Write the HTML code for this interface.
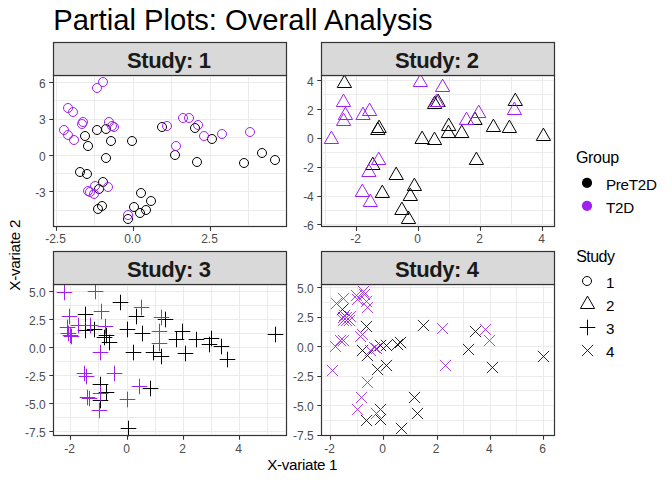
<!DOCTYPE html>
<html lang="en"><head><meta charset="utf-8"><title>Partial Plots: Overall Analysis</title>
<style>
html,body{margin:0;padding:0;background:#fff;}
body{width:672px;height:480px;overflow:hidden;}
svg{display:block;}
text{font-family:"Liberation Sans",Arial,sans-serif;}
.ax{font-size:12px;fill:#4d4d4d;}
.lab{font-size:15.2px;fill:#000;letter-spacing:-0.24px;}
.strip{font-size:22px;font-weight:bold;fill:#1a1a1a;letter-spacing:-0.42px;}
.lt{font-size:16px;fill:#000;}
.sym{fill:none;stroke-width:1.0;stroke-linecap:butt;stroke-linejoin:miter;}
</style></head><body>
<svg width="672" height="480" viewBox="0 0 672 480">
<rect width="672" height="480" fill="#ffffff"/>
<text x="53.2" y="30" style="font-size:29.18px;fill:#000">Partial Plots: Overall Analysis</text>

<g id="panel1">
<rect x="53.5" y="75.5" width="233.0" height="151.0" fill="#fff"/>
<path d="M55.0 100.5H285.0M55.0 137.5H285.0M55.0 173.5H285.0M55.0 210.5H285.0M94.5 77.0V225.0M171.5 77.0V225.0M248.5 77.0V225.0" stroke="#ebebeb" stroke-width="1" fill="none"/>
<path d="M55.0 82.5H285.0M55.0 119.5H285.0M55.0 155.5H285.0M55.0 191.5H285.0M56.5 77.0V225.0M133.5 77.0V225.0M210.5 77.0V225.0" stroke="#ebebeb" stroke-width="1" fill="none"/>
<g class="sym" stroke="#000000"><circle cx="97.0" cy="130.0" r="4.5"/><circle cx="106.0" cy="129.0" r="4.5"/><circle cx="85.0" cy="136.0" r="4.5"/><circle cx="111.0" cy="141.0" r="4.5"/><circle cx="88.0" cy="146.0" r="4.5"/><circle cx="132.0" cy="141.0" r="4.5"/><circle cx="162.0" cy="127.0" r="4.5"/><circle cx="195.0" cy="128.0" r="4.5"/><circle cx="212.0" cy="139.0" r="4.5"/><circle cx="262.0" cy="153.0" r="4.5"/><circle cx="175.0" cy="155.0" r="4.5"/><circle cx="106.0" cy="158.0" r="4.5"/><circle cx="80.0" cy="172.0" r="4.5"/><circle cx="87.0" cy="174.0" r="4.5"/><circle cx="103.0" cy="182.0" r="4.5"/><circle cx="99.0" cy="189.0" r="4.5"/><circle cx="102.0" cy="206.0" r="4.5"/><circle cx="98.0" cy="209.0" r="4.5"/><circle cx="141.0" cy="193.0" r="4.5"/><circle cx="151.0" cy="201.0" r="4.5"/><circle cx="134.0" cy="207.0" r="4.5"/><circle cx="146.0" cy="210.0" r="4.5"/><circle cx="140.0" cy="213.0" r="4.5"/><circle cx="128.0" cy="219.0" r="4.5"/><circle cx="197.0" cy="162.0" r="4.5"/><circle cx="244.0" cy="163.0" r="4.5"/><circle cx="275.0" cy="160.0" r="4.5"/></g>
<g class="sym" stroke="#a020f0"><circle cx="103.0" cy="82.0" r="4.5"/><circle cx="97.0" cy="88.0" r="4.5"/><circle cx="68.0" cy="108.0" r="4.5"/><circle cx="73.0" cy="112.0" r="4.5"/><circle cx="83.0" cy="122.0" r="4.5"/><circle cx="82.0" cy="124.0" r="4.5"/><circle cx="64.0" cy="130.0" r="4.5"/><circle cx="68.0" cy="135.0" r="4.5"/><circle cx="74.0" cy="140.0" r="4.5"/><circle cx="109.0" cy="122.0" r="4.5"/><circle cx="112.0" cy="126.0" r="4.5"/><circle cx="114.0" cy="127.0" r="4.5"/><circle cx="167.0" cy="126.0" r="4.5"/><circle cx="183.0" cy="118.0" r="4.5"/><circle cx="189.0" cy="118.0" r="4.5"/><circle cx="198.0" cy="125.0" r="4.5"/><circle cx="204.0" cy="136.0" r="4.5"/><circle cx="222.0" cy="134.0" r="4.5"/><circle cx="250.0" cy="132.0" r="4.5"/><circle cx="176.0" cy="146.0" r="4.5"/><circle cx="108.0" cy="187.0" r="4.5"/><circle cx="95.0" cy="186.0" r="4.5"/><circle cx="88.0" cy="191.0" r="4.5"/><circle cx="90.0" cy="192.0" r="4.5"/><circle cx="94.0" cy="194.0" r="4.5"/><circle cx="128.0" cy="215.0" r="4.5"/></g>
<rect x="53.5" y="75.5" width="233.0" height="151.0" fill="none" stroke="#333333" stroke-width="1.2"/>
<rect x="53.5" y="42.5" width="233.0" height="33.0" fill="#d9d9d9" stroke="#333333" stroke-width="1.2"/>
<text class="strip" x="127.1" y="68.1">Study: 1</text>
<path d="M49.3 82.5H53.5M49.3 119.5H53.5M49.3 155.5H53.5M49.3 191.5H53.5M56.5 226.5V230.7M133.5 226.5V230.7M210.5 226.5V230.7" stroke="#333333" stroke-width="1.1" fill="none"/>
<text class="ax" x="45.8" y="87.7" text-anchor="end">6</text>
<text class="ax" x="45.8" y="124.2" text-anchor="end">3</text>
<text class="ax" x="45.8" y="160.7" text-anchor="end">0</text>
<text class="ax" x="45.8" y="196.9" text-anchor="end">-3</text>
<text class="ax" x="55.5" y="243.0" text-anchor="middle">-2.5</text>
<text class="ax" x="132.5" y="243.0" text-anchor="middle">0.0</text>
<text class="ax" x="209.5" y="243.0" text-anchor="middle">2.5</text>
</g>
<g id="panel2">
<rect x="321.5" y="75.5" width="233.0" height="151.0" fill="#fff"/>
<path d="M323.0 94.5H553.0M323.0 123.5H553.0M323.0 152.5H553.0M323.0 181.5H553.0M323.0 210.5H553.0M325.5 77.0V225.0M387.5 77.0V225.0M449.5 77.0V225.0M511.5 77.0V225.0" stroke="#ebebeb" stroke-width="1" fill="none"/>
<path d="M323.0 80.5H553.0M323.0 109.5H553.0M323.0 138.5H553.0M323.0 167.5H553.0M323.0 196.5H553.0M323.0 224.5H553.0M356.5 77.0V225.0M418.5 77.0V225.0M480.5 77.0V225.0M542.5 77.0V225.0" stroke="#ebebeb" stroke-width="1" fill="none"/>
<g class="sym" stroke="#000000"><path d="M344.40 75.14L351.54 87.50L337.26 87.50Z"/><path d="M379.10 120.14L386.24 132.50L371.96 132.50Z"/><path d="M377.80 122.14L384.94 134.50L370.66 134.50Z"/><path d="M422.10 131.14L429.24 143.50L414.96 143.50Z"/><path d="M434.50 132.14L441.64 144.50L427.36 144.50Z"/><path d="M438.10 94.14L445.24 106.50L430.96 106.50Z"/><path d="M434.60 96.14L441.74 108.50L427.46 108.50Z"/><path d="M515.30 93.14L522.44 105.50L508.16 105.50Z"/><path d="M475.00 112.14L482.14 124.50L467.86 124.50Z"/><path d="M448.70 118.14L455.84 130.50L441.56 130.50Z"/><path d="M448.40 125.14L455.54 137.50L441.26 137.50Z"/><path d="M461.75 125.14L468.89 137.50L454.61 137.50Z"/><path d="M493.40 119.14L500.54 131.50L486.26 131.50Z"/><path d="M509.40 120.14L516.54 132.50L502.26 132.50Z"/><path d="M543.40 128.14L550.54 140.50L536.26 140.50Z"/><path d="M372.80 157.14L379.94 169.50L365.66 169.50Z"/><path d="M396.20 167.14L403.34 179.50L389.06 179.50Z"/><path d="M414.40 178.14L421.54 190.50L407.26 190.50Z"/><path d="M382.30 185.14L389.44 197.50L375.16 197.50Z"/><path d="M410.30 188.14L417.44 200.50L403.16 200.50Z"/><path d="M401.90 202.14L409.04 214.50L394.76 214.50Z"/><path d="M408.50 211.14L415.64 223.50L401.36 223.50Z"/><path d="M476.40 152.14L483.54 164.50L469.26 164.50Z"/></g>
<g class="sym" stroke="#a020f0"><path d="M420.40 74.14L427.54 86.50L413.26 86.50Z"/><path d="M442.60 79.14L449.74 91.50L435.46 91.50Z"/><path d="M436.60 94.14L443.74 106.50L429.46 106.50Z"/><path d="M343.50 94.14L350.64 106.50L336.36 106.50Z"/><path d="M345.40 107.14L352.54 119.50L338.26 119.50Z"/><path d="M343.60 113.14L350.74 125.50L336.46 125.50Z"/><path d="M363.00 107.14L370.14 119.50L355.86 119.50Z"/><path d="M369.60 103.14L376.74 115.50L362.46 115.50Z"/><path d="M331.40 131.14L338.54 143.50L324.26 143.50Z"/><path d="M478.70 105.14L485.84 117.50L471.56 117.50Z"/><path d="M466.50 112.14L473.64 124.50L459.36 124.50Z"/><path d="M514.40 102.14L521.54 114.50L507.26 114.50Z"/><path d="M378.70 152.14L385.84 164.50L371.56 164.50Z"/><path d="M368.90 164.14L376.04 176.50L361.76 176.50Z"/><path d="M362.30 184.14L369.44 196.50L355.16 196.50Z"/><path d="M370.30 194.14L377.44 206.50L363.16 206.50Z"/></g>
<rect x="321.5" y="75.5" width="233.0" height="151.0" fill="none" stroke="#333333" stroke-width="1.2"/>
<rect x="321.5" y="42.5" width="233.0" height="33.0" fill="#d9d9d9" stroke="#333333" stroke-width="1.2"/>
<text class="strip" x="395.1" y="68.1">Study: 2</text>
<path d="M317.3 80.5H321.5M317.3 109.5H321.5M317.3 138.5H321.5M317.3 167.5H321.5M317.3 196.5H321.5M317.3 224.5H321.5M356.5 226.5V230.7M418.5 226.5V230.7M480.5 226.5V230.7M542.5 226.5V230.7" stroke="#333333" stroke-width="1.1" fill="none"/>
<text class="ax" x="313.8" y="85.6" text-anchor="end">4</text>
<text class="ax" x="313.8" y="114.5" text-anchor="end">2</text>
<text class="ax" x="313.8" y="143.4" text-anchor="end">0</text>
<text class="ax" x="313.8" y="172.3" text-anchor="end">-2</text>
<text class="ax" x="313.8" y="201.3" text-anchor="end">-4</text>
<text class="ax" x="313.8" y="230.1" text-anchor="end">-6</text>
<text class="ax" x="355.5" y="243.0" text-anchor="middle">-2</text>
<text class="ax" x="417.5" y="243.0" text-anchor="middle">0</text>
<text class="ax" x="479.5" y="243.0" text-anchor="middle">2</text>
<text class="ax" x="541.5" y="243.0" text-anchor="middle">4</text>
</g>
<g id="panel3">
<rect x="53.5" y="284.5" width="233.0" height="151.0" fill="#fff"/>
<path d="M55.0 305.5H285.0M55.0 333.5H285.0M55.0 361.5H285.0M55.0 389.5H285.0M55.0 417.5H285.0M98.5 286.0V434.0M155.5 286.0V434.0M211.5 286.0V434.0M267.5 286.0V434.0" stroke="#ebebeb" stroke-width="1" fill="none"/>
<path d="M55.0 291.5H285.0M55.0 319.5H285.0M55.0 347.5H285.0M55.0 375.5H285.0M55.0 403.5H285.0M55.0 431.5H285.0M70.5 286.0V434.0M127.5 286.0V434.0M183.5 286.0V434.0M239.5 286.0V434.0" stroke="#ebebeb" stroke-width="1" fill="none"/>
<g class="sym" stroke="#000000"><path d="M77.70 314.50H93.30M85.50 306.70V322.30"/><path d="M77.70 330.50H93.30M85.50 322.70V338.30"/><path d="M86.70 329.50H102.30M94.50 321.70V337.30"/><path d="M98.70 335.50H114.30M106.50 327.70V343.30"/><path d="M96.70 337.50H112.30M104.50 329.70V345.30"/><path d="M101.70 342.50H117.30M109.50 334.70V350.30"/><path d="M112.70 302.50H128.30M120.50 294.70V310.30"/><path d="M128.70 316.50H144.30M136.50 308.70V324.30"/><path d="M119.70 329.50H135.30M127.50 321.70V337.30"/><path d="M134.70 333.50H150.30M142.50 325.70V341.30"/><path d="M125.70 352.50H141.30M133.50 344.70V360.30"/><path d="M145.70 352.50H161.30M153.50 344.70V360.30"/><path d="M153.70 356.50H169.30M161.50 348.70V364.30"/><path d="M157.70 319.50H173.30M165.50 311.70V327.30"/><path d="M174.70 331.50H190.30M182.50 323.70V339.30"/><path d="M168.70 339.50H184.30M176.50 331.70V347.30"/><path d="M188.70 339.50H204.30M196.50 331.70V347.30"/><path d="M203.70 338.50H219.30M211.50 330.70V346.30"/><path d="M201.70 344.50H217.30M209.50 336.70V352.30"/><path d="M213.70 346.50H229.30M221.50 338.70V354.30"/><path d="M177.70 353.50H193.30M185.50 345.70V361.30"/><path d="M219.70 359.50H235.30M227.50 351.70V367.30"/><path d="M267.70 334.50H283.30M275.50 326.70V342.30"/><path d="M92.70 384.50H108.30M100.50 376.70V392.30"/><path d="M98.70 392.50H114.30M106.50 384.70V400.30"/><path d="M92.70 400.50H108.30M100.50 392.70V408.30"/><path d="M142.70 388.50H158.30M150.50 380.70V396.30"/><path d="M120.70 428.50H136.30M128.50 420.70V436.30"/></g>
<g class="sym" stroke="#a020f0"><path d="M56.70 292.50H72.30M64.50 284.70V300.30"/><path d="M87.70 291.50H103.30M95.50 283.70V299.30"/><path d="M93.70 311.50H109.30M101.50 303.70V319.30"/><path d="M61.70 316.50H77.30M69.50 308.70V324.30"/><path d="M70.70 325.50H86.30M78.50 317.70V333.30"/><path d="M82.70 325.50H98.30M90.50 317.70V333.30"/><path d="M59.70 327.50H75.30M67.50 319.70V335.30"/><path d="M60.70 333.50H76.30M68.50 325.70V341.30"/><path d="M62.70 335.50H78.30M70.50 327.70V343.30"/><path d="M63.70 336.50H79.30M71.50 328.70V344.30"/><path d="M97.70 326.50H113.30M105.50 318.70V334.30"/><path d="M133.70 307.50H149.30M141.50 299.70V315.30"/><path d="M153.70 317.50H169.30M161.50 309.70V325.30"/><path d="M151.70 331.50H167.30M159.50 323.70V339.30"/><path d="M151.70 343.50H167.30M159.50 335.70V351.30"/><path d="M92.70 352.50H108.30M100.50 344.70V360.30"/><path d="M76.70 373.50H92.30M84.50 365.70V381.30"/><path d="M78.70 376.50H94.30M86.50 368.70V384.30"/><path d="M106.70 373.50H122.30M114.50 365.70V381.30"/><path d="M79.70 397.50H95.30M87.50 389.70V405.30"/><path d="M81.70 398.50H97.30M89.50 390.70V406.30"/><path d="M92.70 393.50H108.30M100.50 385.70V401.30"/><path d="M91.70 410.50H107.30M99.50 402.70V418.30"/><path d="M119.70 399.50H135.30M127.50 391.70V407.30"/><path d="M131.70 386.50H147.30M139.50 378.70V394.30"/></g>
<rect x="53.5" y="284.5" width="233.0" height="151.0" fill="none" stroke="#333333" stroke-width="1.2"/>
<rect x="53.5" y="251.5" width="233.0" height="33.0" fill="#d9d9d9" stroke="#333333" stroke-width="1.2"/>
<text class="strip" x="127.1" y="277.1">Study: 3</text>
<path d="M49.3 291.5H53.5M49.3 319.5H53.5M49.3 347.5H53.5M49.3 375.5H53.5M49.3 403.5H53.5M49.3 431.5H53.5M70.5 435.5V439.7M127.5 435.5V439.7M183.5 435.5V439.7M239.5 435.5V439.7" stroke="#333333" stroke-width="1.1" fill="none"/>
<text class="ax" x="45.8" y="296.7" text-anchor="end">5.0</text>
<text class="ax" x="45.8" y="324.7" text-anchor="end">2.5</text>
<text class="ax" x="45.8" y="352.7" text-anchor="end">0.0</text>
<text class="ax" x="45.8" y="380.7" text-anchor="end">-2.5</text>
<text class="ax" x="45.8" y="408.7" text-anchor="end">-5.0</text>
<text class="ax" x="45.8" y="436.7" text-anchor="end">-7.5</text>
<text class="ax" x="69.5" y="452.9" text-anchor="middle">-2</text>
<text class="ax" x="126.5" y="452.9" text-anchor="middle">0</text>
<text class="ax" x="182.5" y="452.9" text-anchor="middle">2</text>
<text class="ax" x="238.5" y="452.9" text-anchor="middle">4</text>
</g>
<g id="panel4">
<rect x="321.5" y="284.5" width="233.0" height="151.0" fill="#fff"/>
<path d="M323.0 302.5H553.0M323.0 331.5H553.0M323.0 361.5H553.0M323.0 390.5H553.0M323.0 420.5H553.0M357.5 286.0V434.0M410.5 286.0V434.0M463.5 286.0V434.0M516.5 286.0V434.0" stroke="#ebebeb" stroke-width="1" fill="none"/>
<path d="M323.0 287.5H553.0M323.0 317.5H553.0M323.0 346.5H553.0M323.0 376.5H553.0M323.0 405.5H553.0M323.0 435.5H553.0M330.5 286.0V434.0M383.5 286.0V434.0M437.5 286.0V434.0M490.5 286.0V434.0M543.5 286.0V434.0" stroke="#ebebeb" stroke-width="1" fill="none"/>
<g class="sym" stroke="#000000"><path stroke-width="0.85" d="M336.90 303.90L348.10 315.10M336.90 315.10L348.10 303.90"/><path stroke-width="0.85" d="M360.90 320.90L372.10 332.10M360.90 332.10L372.10 320.90"/><path stroke-width="0.85" d="M356.90 344.90L368.10 356.10M356.90 356.10L368.10 344.90"/><path stroke-width="0.85" d="M361.90 349.90L373.10 361.10M361.90 361.10L373.10 349.90"/><path stroke-width="0.85" d="M374.90 339.90L386.10 351.10M374.90 351.10L386.10 339.90"/><path stroke-width="0.85" d="M380.90 339.90L392.10 351.10M380.90 351.10L392.10 339.90"/><path stroke-width="0.85" d="M394.90 336.90L406.10 348.10M394.90 348.10L406.10 336.90"/><path stroke-width="0.85" d="M391.90 338.90L403.10 350.10M391.90 350.10L403.10 338.90"/><path stroke-width="0.85" d="M417.90 319.90L429.10 331.10M417.90 331.10L429.10 319.90"/><path stroke-width="0.85" d="M469.90 325.90L481.10 337.10M469.90 337.10L481.10 325.90"/><path stroke-width="0.85" d="M462.90 343.90L474.10 355.10M462.90 355.10L474.10 343.90"/><path stroke-width="0.85" d="M486.90 361.90L498.10 373.10M486.90 373.10L498.10 361.90"/><path stroke-width="0.85" d="M537.90 350.90L549.10 362.10M537.90 362.10L549.10 350.90"/><path stroke-width="0.85" d="M371.90 363.90L383.10 375.10M371.90 375.10L383.10 363.90"/><path stroke-width="0.85" d="M380.90 359.90L392.10 371.10M380.90 371.10L392.10 359.90"/><path stroke-width="0.85" d="M374.90 403.90L386.10 415.10M374.90 415.10L386.10 403.90"/><path stroke-width="0.85" d="M360.90 414.90L372.10 426.10M360.90 426.10L372.10 414.90"/><path stroke-width="0.85" d="M374.90 413.90L386.10 425.10M374.90 425.10L386.10 413.90"/><path stroke-width="0.85" d="M395.90 422.90L407.10 434.10M395.90 434.10L407.10 422.90"/><path stroke-width="0.85" d="M408.90 391.90L420.10 403.10M408.90 403.10L420.10 391.90"/><path stroke-width="0.85" d="M411.90 407.90L423.10 419.10M411.90 419.10L423.10 407.90"/></g>
<g class="sym" stroke="#a020f0"><path stroke-width="0.85" d="M337.90 292.90L349.10 304.10M337.90 304.10L349.10 292.90"/><path stroke-width="0.85" d="M330.90 297.90L342.10 309.10M330.90 309.10L342.10 297.90"/><path stroke-width="0.85" d="M357.90 285.90L369.10 297.10M357.90 297.10L369.10 285.90"/><path stroke-width="0.85" d="M358.90 288.90L370.10 300.10M358.90 300.10L370.10 288.90"/><path stroke-width="0.85" d="M350.90 289.90L362.10 301.10M350.90 301.10L362.10 289.90"/><path stroke-width="0.85" d="M351.90 293.90L363.10 305.10M351.90 305.10L363.10 293.90"/><path stroke-width="0.85" d="M360.90 295.90L372.10 307.10M360.90 307.10L372.10 295.90"/><path stroke-width="0.85" d="M361.90 301.90L373.10 313.10M361.90 313.10L373.10 301.90"/><path stroke-width="0.85" d="M338.90 309.90L350.10 321.10M338.90 321.10L350.10 309.90"/><path stroke-width="0.85" d="M344.90 310.90L356.10 322.10M344.90 322.10L356.10 310.90"/><path stroke-width="0.85" d="M337.90 311.90L349.10 323.10M337.90 323.10L349.10 311.90"/><path stroke-width="0.85" d="M340.90 311.90L352.10 323.10M340.90 323.10L352.10 311.90"/><path stroke-width="0.85" d="M337.90 314.90L349.10 326.10M337.90 326.10L349.10 314.90"/><path stroke-width="0.85" d="M340.90 314.90L352.10 326.10M340.90 326.10L352.10 314.90"/><path stroke-width="0.85" d="M343.90 314.90L355.10 326.10M343.90 326.10L355.10 314.90"/><path stroke-width="0.85" d="M334.90 334.90L346.10 346.10M334.90 346.10L346.10 334.90"/><path stroke-width="0.85" d="M337.90 334.90L349.10 346.10M337.90 346.10L349.10 334.90"/><path stroke-width="0.85" d="M329.90 340.90L341.10 352.10M329.90 352.10L341.10 340.90"/><path stroke-width="0.85" d="M356.90 328.90L368.10 340.10M356.90 340.10L368.10 328.90"/><path stroke-width="0.85" d="M354.90 330.90L366.10 342.10M354.90 342.10L366.10 330.90"/><path stroke-width="0.85" d="M368.90 341.90L380.10 353.10M368.90 353.10L380.10 341.90"/><path stroke-width="0.85" d="M364.90 344.90L376.10 356.10M364.90 356.10L376.10 344.90"/><path stroke-width="0.85" d="M370.90 342.90L382.10 354.10M370.90 354.10L382.10 342.90"/><path stroke-width="0.85" d="M436.90 322.90L448.10 334.10M436.90 334.10L448.10 322.90"/><path stroke-width="0.85" d="M479.90 323.90L491.10 335.10M479.90 335.10L491.10 323.90"/><path stroke-width="0.85" d="M483.90 334.90L495.10 346.10M483.90 346.10L495.10 334.90"/><path stroke-width="0.85" d="M439.90 359.90L451.10 371.10M439.90 371.10L451.10 359.90"/><path stroke-width="0.85" d="M326.90 364.90L338.10 376.10M326.90 376.10L338.10 364.90"/><path stroke-width="0.85" d="M361.90 376.90L373.10 388.10M361.90 388.10L373.10 376.90"/><path stroke-width="0.85" d="M355.90 391.90L367.10 403.10M355.90 403.10L367.10 391.90"/><path stroke-width="0.85" d="M351.90 403.90L363.10 415.10M351.90 415.10L363.10 403.90"/><path stroke-width="0.85" d="M370.90 407.90L382.10 419.10M370.90 419.10L382.10 407.90"/></g>
<rect x="321.5" y="284.5" width="233.0" height="151.0" fill="none" stroke="#333333" stroke-width="1.2"/>
<rect x="321.5" y="251.5" width="233.0" height="33.0" fill="#d9d9d9" stroke="#333333" stroke-width="1.2"/>
<text class="strip" x="395.1" y="277.1">Study: 4</text>
<path d="M317.3 287.5H321.5M317.3 317.5H321.5M317.3 346.5H321.5M317.3 376.5H321.5M317.3 405.5H321.5M317.3 435.5H321.5M330.5 435.5V439.7M383.5 435.5V439.7M437.5 435.5V439.7M490.5 435.5V439.7M543.5 435.5V439.7" stroke="#333333" stroke-width="1.1" fill="none"/>
<text class="ax" x="313.8" y="292.7" text-anchor="end">5.0</text>
<text class="ax" x="313.8" y="322.3" text-anchor="end">2.5</text>
<text class="ax" x="313.8" y="351.8" text-anchor="end">0.0</text>
<text class="ax" x="313.8" y="381.4" text-anchor="end">-2.5</text>
<text class="ax" x="313.8" y="410.9" text-anchor="end">-5.0</text>
<text class="ax" x="313.8" y="440.4" text-anchor="end">-7.5</text>
<text class="ax" x="329.5" y="452.9" text-anchor="middle">-2</text>
<text class="ax" x="382.7" y="452.9" text-anchor="middle">0</text>
<text class="ax" x="436.2" y="452.9" text-anchor="middle">2</text>
<text class="ax" x="489.4" y="452.9" text-anchor="middle">4</text>
<text class="ax" x="542.6" y="452.9" text-anchor="middle">6</text>
</g>
<text class="lab" x="302.2" y="469.5" text-anchor="middle" style="letter-spacing:-0.3px">X-variate 1</text>
<text class="lab" transform="translate(19.5,255.3) rotate(-90)" text-anchor="middle">X-variate 2</text>
<g id="legend">
<text class="lt" x="575.9" y="162.5" style="letter-spacing:-0.3px">Group</text>
<circle cx="587" cy="182.8" r="5.1" fill="#000"/>
<circle cx="587" cy="205.8" r="5.1" fill="#a020f0"/>
<text class="lab" x="605.9" y="189.7">PreT2D</text>
<text class="lab" x="605.9" y="212.8">T2D</text>
<text class="lt" x="576.2" y="261.5" style="letter-spacing:-0.55px">Study</text>
<g class="sym" stroke="#000"><circle cx="587.0" cy="281.0" r="4.5"/><path d="M587.50 296.14L594.64 308.50L580.36 308.50Z"/><path d="M579.70 327.50H595.30M587.50 319.70V335.30"/><path stroke-width="0.85" d="M581.90 344.90L593.10 356.10M581.90 356.10L593.10 344.90"/></g>
<text class="lab" x="605.9" y="287.6">1</text>
<text class="lab" x="605.9" y="310.6">2</text>
<text class="lab" x="605.9" y="333.6">3</text>
<text class="lab" x="605.9" y="356.6">4</text>
</g>
</svg></body></html>
